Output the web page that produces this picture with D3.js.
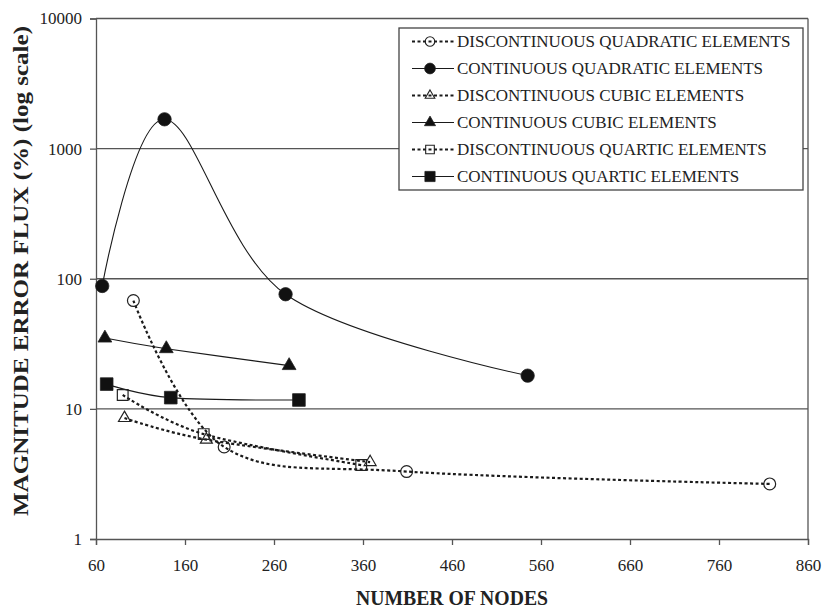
<!DOCTYPE html>
<html>
<head>
<meta charset="utf-8">
<script src="https://cdn.jsdelivr.net/npm/d3@7"></script>
<style>
  html, body { margin: 0; padding: 0; background: #fff; }
  svg { display: block; }
  text { font-family: "Liberation Serif", "Times New Roman", serif; fill: #222; }
</style>
</head>
<body>
<svg id="chart" width="822" height="610"></svg>
<script>
// ---- Data ----
const xTicks = [60, 160, 260, 360, 460, 560, 660, 760, 860];
const yTicks = [1, 10, 100, 1000, 10000];
const yGrid = [10, 100, 1000];

const discQuadNodes = [102, 204, 409, 817];
const discQuadErr   = [68, 5.1, 3.3, 2.65];
const contQuadNodes = [67, 137, 273, 545];
const contQuadErr   = [88, 1680, 76, 18];
const discCubicNodes = [92, 184, 368];
const discCubicErr   = [8.5, 5.8, 3.9];
const contCubicNodes = [70, 139, 277];
const contCubicErr   = [35, 29, 21.5];
const discQuarticNodes = [90, 181, 358];
const discQuarticErr   = [12.8, 6.4, 3.7];
const contQuarticNodes = [72, 144, 288];
const contQuarticErr   = [15.5, 12.2, 11.7];

const seriesNames = [
  "DISCONTINUOUS QUADRATIC ELEMENTS",
  "CONTINUOUS QUADRATIC ELEMENTS",
  "DISCONTINUOUS CUBIC ELEMENTS",
  "CONTINUOUS CUBIC ELEMENTS",
  "DISCONTINUOUS QUARTIC ELEMENTS",
  "CONTINUOUS QUARTIC ELEMENTS"
];

const xTitle = "NUMBER OF NODES";
const yTitle = "MAGNITUDE ERROR FLUX (%) (log scale)";

// ---- Build series table ----
const series = [
  { name: seriesNames[0], x: discQuadNodes, y: discQuadErr, dashed: true, shape: "circle", filled: false },
  { name: seriesNames[1], x: contQuadNodes, y: contQuadErr, dashed: false, shape: "circle", filled: true },
  { name: seriesNames[2], x: discCubicNodes, y: discCubicErr, dashed: true, shape: "triangle", filled: false },
  { name: seriesNames[3], x: contCubicNodes, y: contCubicErr, dashed: false, shape: "triangle", filled: true },
  { name: seriesNames[4], x: discQuarticNodes, y: discQuarticErr, dashed: true, shape: "square", filled: false },
  { name: seriesNames[5], x: contQuarticNodes, y: contQuarticErr, dashed: false, shape: "square", filled: true }
];

// ---- Layout ----
const plotL = 96, plotR = 808, plotT = 18.5, plotB = 539;
const svg = d3.select("#chart");

const x = d3.scaleLinear().domain([60, 860]).range([plotL, plotR]);
const y = d3.scaleLog().domain([1, 10000]).range([plotB, plotT]);

const gridColor = "#555";

// gridlines
svg.append("g").selectAll("line").data(yGrid).join("line")
  .attr("x1", plotL).attr("x2", plotR)
  .attr("y1", d => y(d)).attr("y2", d => y(d))
  .attr("stroke", gridColor).attr("stroke-width", 1.3);

// plot frame (top & right)
svg.append("line").attr("x1", plotL).attr("x2", plotR).attr("y1", plotT).attr("y2", plotT)
  .attr("stroke", gridColor).attr("stroke-width", 1.3);
svg.append("line").attr("x1", plotR).attr("x2", plotR).attr("y1", plotT).attr("y2", plotB)
  .attr("stroke", gridColor).attr("stroke-width", 1.3);

// axes
const yAxis = d3.axisLeft(y).tickValues(yTicks).tickFormat(d3.format("d")).tickSize(6).tickPadding(8);
const gy = svg.append("g").attr("transform", `translate(${plotL},0)`).call(yAxis);
const xAxis = d3.axisBottom(x).tickValues(xTicks).tickFormat(d3.format("d")).tickSize(6).tickPadding(14);
const gx = svg.append("g").attr("transform", `translate(0,${plotB})`).call(xAxis);

[gx, gy].forEach(g => {
  g.select(".domain").attr("stroke", gridColor).attr("stroke-width", 1.3);
  g.selectAll(".tick line").attr("stroke", gridColor).attr("stroke-width", 1.3);
  g.selectAll(".tick text").attr("font-family", "Liberation Serif, serif")
    .attr("font-size", 17).attr("fill", "#222");
});

// axis titles
svg.append("text")
  .attr("x", (plotL + plotR) / 2).attr("y", 605)
  .attr("text-anchor", "middle")
  .attr("font-weight", "bold").attr("font-size", 20)
  .attr("textLength", 192).attr("lengthAdjust", "spacingAndGlyphs")
  .text(xTitle);

svg.append("text")
  .attr("transform", `translate(28,271) rotate(-90)`)
  .attr("text-anchor", "middle")
  .attr("font-weight", "bold").attr("font-size", 21)
  .attr("textLength", 490).attr("lengthAdjust", "spacingAndGlyphs")
  .text(yTitle);

// lines
const line = d3.line().x(d => x(d[0])).y(d => y(d[1])).curve(d3.curveCardinal.tension(0));

function symbolPath(shape, filled, scale) {
  let type, size;
  if (shape === "circle") { type = d3.symbolCircle; size = filled ? 140 : 110; }
  else if (shape === "triangle") { type = d3.symbolTriangle; size = filled ? 82 : 62; }
  else { type = d3.symbolSquare; size = filled ? 160 : 115; }
  return d3.symbol().type(type).size(size * scale)();
}

const gSeries = svg.append("g");
series.forEach(s => {
  const pts = s.x.map((v, i) => [v, s.y[i]]);
  gSeries.append("path")
    .attr("d", line(pts))
    .attr("fill", "none")
    .attr("stroke", "#1a1a1a")
    .attr("stroke-width", s.dashed ? 2.2 : 1.1)
    .attr("stroke-dasharray", s.dashed ? "3,2.5" : null);
});
series.forEach(s => {
  const pts = s.x.map((v, i) => [v, s.y[i]]);
  gSeries.append("g").selectAll("path").data(pts).join("path")
    .attr("transform", d => `translate(${x(d[0])},${y(d[1])})`)
    .attr("d", symbolPath(s.shape, s.filled, 1))
    .attr("fill", s.filled ? "#111" : "none")
    .attr("stroke", "#222")
    .attr("stroke-width", s.filled ? 0.8 : 1.2);
});

// legend
const lgX = 399, lgY = 28, lgW = 404, lgH = 162;
const lg = svg.append("g");
lg.append("rect").attr("x", lgX).attr("y", lgY).attr("width", lgW).attr("height", lgH)
  .attr("fill", "#fff").attr("stroke", "#444").attr("stroke-width", 1.3);
const rowH = lgH / series.length;
series.forEach((s, i) => {
  const cy = lgY + rowH * (i + 0.5);
  lg.append("line").attr("x1", 412).attr("x2", 454).attr("y1", cy).attr("y2", cy)
    .attr("stroke", "#1a1a1a")
    .attr("stroke-width", s.dashed ? 2.2 : 1.1)
    .attr("stroke-dasharray", s.dashed ? "3,2.5" : null);
  lg.append("path").attr("transform", `translate(430,${cy})`)
    .attr("d", symbolPath(s.shape, s.filled, 0.65))
    .attr("fill", s.filled ? "#111" : "none")
    .attr("stroke", "#222").attr("stroke-width", s.filled ? 0.8 : 1.1);
  lg.append("text").attr("x", 457).attr("y", cy + 5.5)
    .attr("font-size", 17)
    .text(s.name);
});
</script>
</body>
</html>
